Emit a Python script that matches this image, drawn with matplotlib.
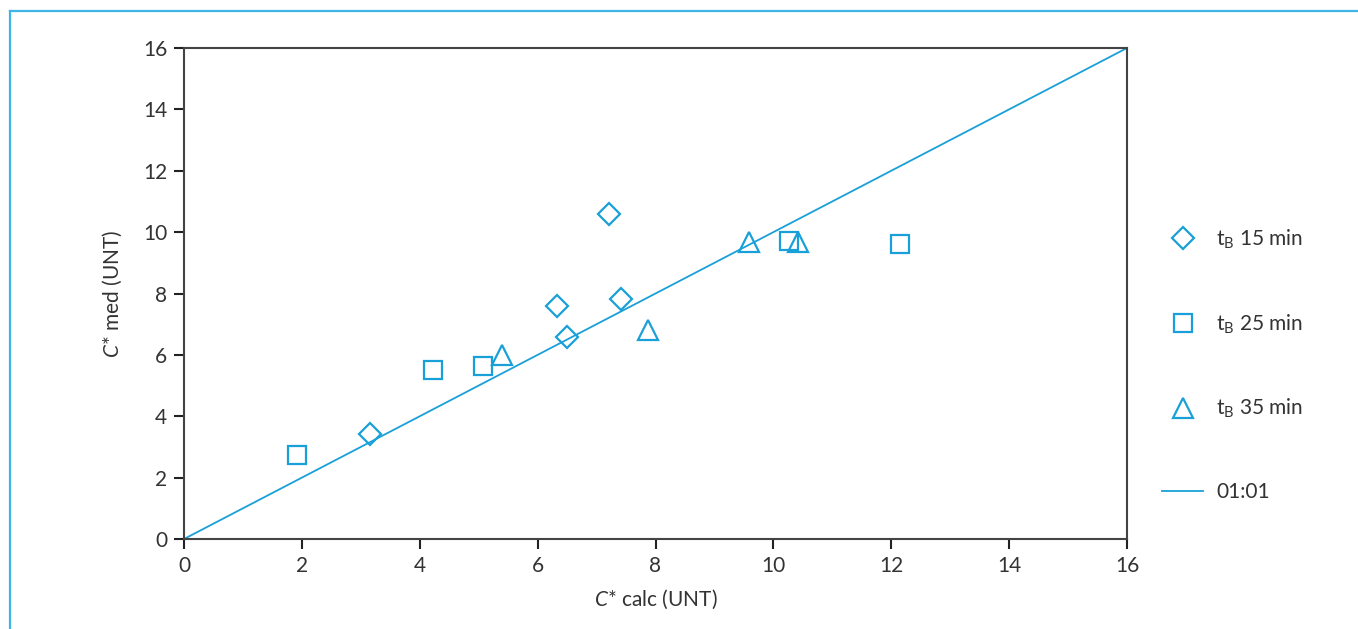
import numpy as np
import matplotlib
matplotlib.use('Agg')
import matplotlib.pyplot as plt
from matplotlib.lines import Line2D

plt.rcParams['font.family'] = ['Lato', 'DejaVu Sans']
plt.rcParams['font.weight'] = 'normal'
plt.rcParams['mathtext.fontset'] = 'custom'
plt.rcParams['mathtext.rm'] = 'Lato'
plt.rcParams['mathtext.it'] = 'Lato:italic'

# measured vs calculated C* (UNT), grouped by tB
x15 = [3.16, 6.33, 7.21, 7.41, 6.50]
y15 = [3.42, 7.59, 10.59, 7.82, 6.58]
x25 = [1.92, 4.22, 5.07, 10.26, 12.15]
y25 = [2.74, 5.51, 5.64, 9.71, 9.61]
x35 = [5.40, 7.87, 9.59, 10.42]
y35 = [6.00, 6.81, 9.68, 9.68]
one_to_one = [0, 16]

blue = '#1aa0d8'
txt = '#333333'

fig = plt.figure(figsize=(13.58, 6.29), dpi=100)
ax = fig.add_axes([184/1358, 90/629, (1127-184)/1358, (539-48)/629])

ax.plot(x15, y15, linestyle='none', marker='D', markersize=11, mfc='white',
        mec=blue, mew=1.6, label=r'$\mathregular{t_B}$ 15 min')
ax.plot(x25, y25, linestyle='none', marker='s', markersize=12.5, mfc='none',
        mec=blue, mew=1.6, label=r'$\mathregular{t_B}$ 25 min')
ax.plot(x35, y35, linestyle='none', marker='^', markersize=14, mfc='none',
        mec=blue, mew=1.6, label=r'$\mathregular{t_B}$ 35 min')
ax.plot(one_to_one, one_to_one, color=blue, lw=1.3, label='01:01')

ax.set_xlim(0, 16)
ax.set_ylim(0, 16)
ax.set_xticks(np.arange(0, 17, 2))
ax.set_yticks(np.arange(0, 17, 2))
ax.tick_params(direction='out', length=7, width=1.5, colors='#222222',
               labelcolor=txt, labelsize=15, pad=5)
for s in ax.spines.values():
    s.set_color('#444444')
    s.set_linewidth(1.5)

ax.set_xlabel(r'$C$* calc (UNT)', fontsize=15, color=txt, labelpad=9)
ax.set_ylabel(r'$C$* med (UNT)', fontsize=15, color=txt, labelpad=14)

fig.legend(loc='center left', bbox_to_anchor=(1143/1358, 0.42), frameon=False,
           fontsize=15, labelcolor=txt, handlelength=2.0, handletextpad=0.6,
           labelspacing=2.95, numpoints=1)

# light blue frame along the top and left edges
fig.add_artist(Line2D([10/1358, 1], [1 - 11/629, 1 - 11/629], color='#3db6e6', lw=1.6))
fig.add_artist(Line2D([10/1358, 10/1358], [0, 1 - 11/629], color='#3db6e6', lw=1.6))

fig.savefig('out.png', dpi=100)
